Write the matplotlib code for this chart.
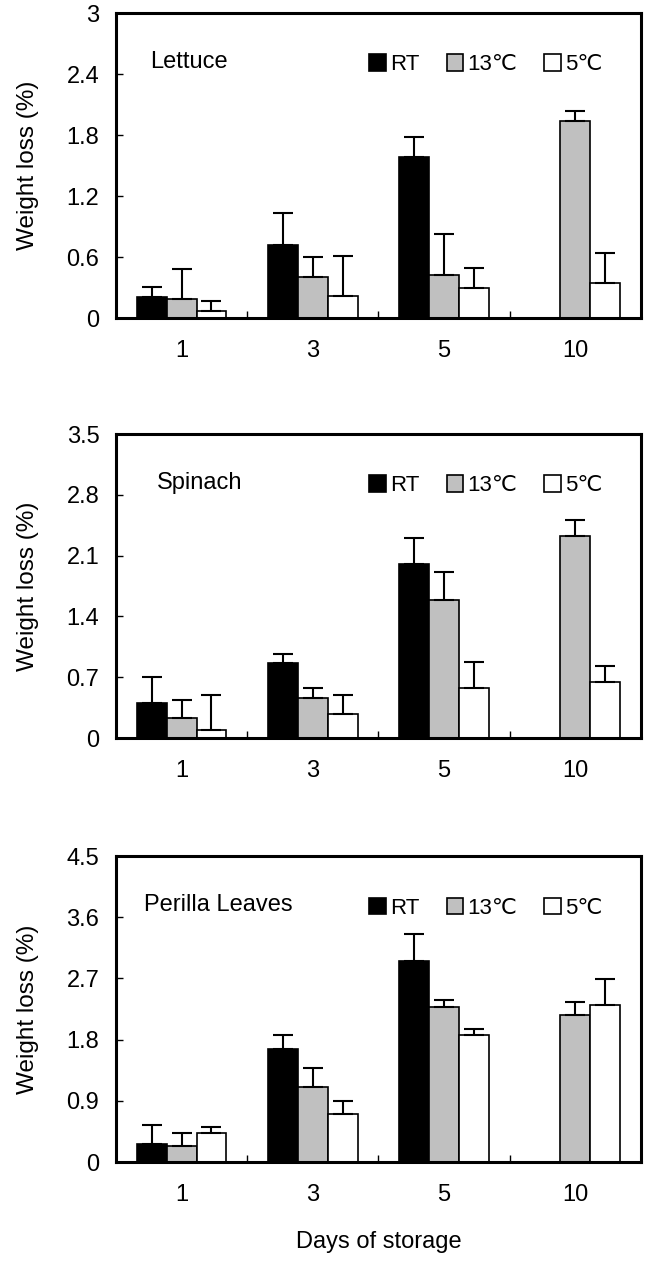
import matplotlib
matplotlib.use('Agg')
import matplotlib.pyplot as plt
from matplotlib.patches import Patch
import numpy as np

plt.rcParams['font.family'] = ['Liberation Sans', 'DejaVu Sans']

days = ['1', '3', '5', '10']
series = ['RT', '13℃', '5℃']
colors = ['black', '#c0c0c0', 'white']

lettuce_mean = [[0.21, 0.72, 1.58, np.nan],
                [0.19, 0.40, 0.42, 1.94],
                [0.07, 0.22, 0.30, 0.34]]
lettuce_err = [[0.10, 0.31, 0.20, np.nan],
               [0.29, 0.20, 0.41, 0.10],
               [0.10, 0.39, 0.19, 0.30]]

spinach_mean = [[0.40, 0.86, 2.00, np.nan],
                [0.23, 0.46, 1.59, 2.33],
                [0.09, 0.28, 0.58, 0.65]]
spinach_err = [[0.30, 0.11, 0.30, np.nan],
               [0.21, 0.12, 0.32, 0.18],
               [0.41, 0.21, 0.30, 0.18]]

perilla_mean = [[0.26, 1.66, 2.95, np.nan],
                [0.23, 1.10, 2.28, 2.16],
                [0.43, 0.70, 1.87, 2.31]]
perilla_err = [[0.29, 0.21, 0.40, np.nan],
               [0.20, 0.29, 0.11, 0.20],
               [0.09, 0.20, 0.09, 0.38]]

panels = [
    ('Lettuce', lettuce_mean, lettuce_err, 3.0, 0.6, [0.1793, 0.7486, 0.8114, 0.2411], 0.065),
    ('Spinach', spinach_mean, spinach_err, 3.5, 0.7, [0.1793, 0.4166, 0.8114, 0.2403], 0.078),
    ('Perilla Leaves', perilla_mean, perilla_err, 4.5, 0.9, [0.1793, 0.0814, 0.8114, 0.2419], 0.053),
]

fs = 17
width = 0.227
x = np.arange(len(days))

fig = plt.figure(figsize=(6.47, 12.65), dpi=100)

for k, (name, means, errs, ymax, step, rect, tx) in enumerate(panels):
    ax = fig.add_axes(rect)
    for i in range(3):
        pos = x + (i - 1) * width
        m = np.array(means[i], dtype=float)
        e = np.array(errs[i], dtype=float)
        ax.bar(pos, m, width, color=colors[i], edgecolor='black', linewidth=1.2, zorder=2)
        ax.errorbar(pos, m, yerr=[np.zeros_like(e), e], fmt='none', ecolor='black',
                    elinewidth=1.5, capsize=7, capthick=1.5, zorder=3)
    ax.set_xlim(-0.5, 3.5)
    ax.set_ylim(0, ymax)
    yt = np.round(np.arange(0, ymax + step / 2, step), 2)
    ax.set_yticks(yt)
    ax.set_yticklabels(['%g' % v for v in yt])
    ax.set_xticks(x)
    ax.set_xticklabels(days)
    ax.set_xticks([0.5, 1.5, 2.5], minor=True)
    ax.tick_params(axis='x', which='major', length=0, pad=16, labelsize=fs)
    ax.tick_params(axis='x', which='minor', direction='in', length=5, width=1)
    ax.tick_params(axis='y', direction='in', length=5, width=1, pad=12, labelsize=fs)
    for s in ax.spines.values():
        s.set_linewidth(2.2)
    ax.set_ylabel('Weight loss (%)', fontsize=fs + 0.5, labelpad=20)
    ax.text(tx, 0.84, name, transform=ax.transAxes, fontsize=fs, va='center', ha='left')
    handles = [Patch(facecolor=c, edgecolor='black', linewidth=1.2) for c in colors]
    ax.legend(handles, series, loc='center', bbox_to_anchor=(0.705, 0.83), ncol=3,
              frameon=False, fontsize=16, handlelength=0.75, handleheight=0.75,
              handletextpad=0.2, columnspacing=1.2, borderaxespad=0, borderpad=0)
    if k == 2:
        ax.set_xlabel('Days of storage', fontsize=fs, labelpad=18)

fig.savefig('out.png', dpi=100)
